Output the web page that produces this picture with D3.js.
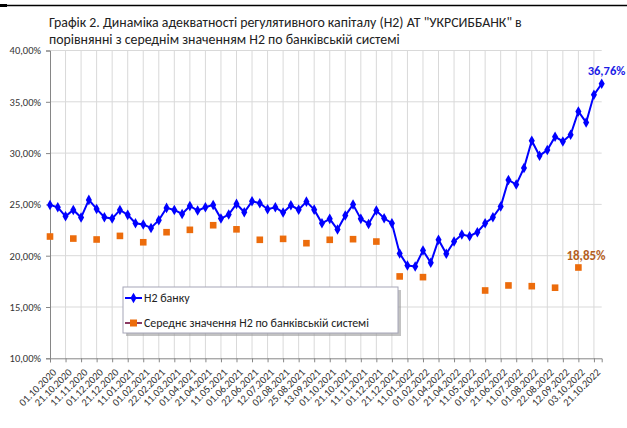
<!DOCTYPE html>
<html>
<head>
<meta charset="utf-8">
<script src="https://cdn.jsdelivr.net/npm/d3@7"></script>
<style>
  body { margin: 0; background: #fff; }
  svg { display: block; font-family: Carlito, Lato, "Open Sans", sans-serif; }
</style>
</head>
<body>
<div id="chart"></div>
<script>
// tick labels (every second category)
const tickLabels = [
  "01.10.2020", "21.10.2020", "11.11.2020", "01.12.2020", "21.12.2020", "11.01.2021",
  "01.02.2021", "22.02.2021", "11.03.2021", "01.04.2021", "21.04.2021", "11.05.2021",
  "01.06.2021", "22.06.2021", "12.07.2021", "02.08.2021", "25.08.2021", "13.09.2021",
  "01.10.2021", "21.10.2021", "11.11.2021", "01.12.2021", "21.12.2021", "11.01.2022",
  "01.02.2022", "01.04.2022", "21.04.2022", "11.05.2022", "01.06.2022", "21.06.2022",
  "11.07.2022", "01.08.2022", "22.08.2022", "12.09.2022", "03.10.2022", "21.10.2022"
];

// Н2 банку, %
const bankH2 = [
  24.95, 24.72, 23.84, 24.46, 23.72, 25.44, 24.56, 23.75, 23.62, 24.46,
  23.98, 23.16, 23.04, 22.71, 23.46, 24.66, 24.46, 24.07, 24.85, 24.40,
  24.72, 24.95, 23.62, 24.01, 25.05, 24.23, 25.30, 25.11, 24.53, 24.72,
  24.20, 24.91, 24.49, 25.27, 24.49, 23.16, 23.59, 22.55, 23.91, 24.98,
  23.59, 23.10, 24.40, 23.65, 23.16, 20.22, 19.05, 18.95, 20.51, 19.31,
  21.55, 20.18, 21.38, 22.06, 21.90, 22.29, 23.16, 23.75, 24.79, 27.38,
  26.93, 28.55, 31.21, 29.75, 30.30, 31.60, 31.14, 31.79, 34.06, 32.99,
  35.68, 36.76
];

// середнє значення Н2 по банківській системі, % (null = немає даних)
const systemH2 = [
  21.87, null, null, 21.67, null, null, 21.58, null, null, 21.93,
  null, null, 21.31, null, null, 22.29, null, null, 22.52, null,
  null, 22.97, null, null, 22.57, null, null, 21.55, null, null,
  21.64, null, null, 21.22, null, null, 21.55, null, null, 21.61,
  null, null, 21.38, null, null, 17.98, null, null, 17.91, null,
  null, null, null, null, null, null, 16.61, null, null, 17.10,
  null, null, 17.03, null, null, 16.88, null, null, 18.85, null,
  null, null
];

const yTicks = [10, 15, 20, 25, 30, 35, 40];

const W = 627, H = 428;
const plotL = 50, plotR = 601.7, plotT = 50.5, plotB = 358.3;

const svg = d3.select("#chart").append("svg")
  .attr("width", W).attr("height", H);

// top rule
svg.append("line").attr("x1", 0).attr("x2", W).attr("y1", 5.5).attr("y2", 5.5)
  .attr("stroke", "#000").attr("stroke-width", 1.5);
svg.append("rect").attr("x", 0).attr("y", 4).attr("width", 7).attr("height", 3).attr("fill", "#000");

// title
const title = svg.append("text").attr("x", 49).attr("y", 27).attr("fill", "#222").attr("font-size", 13);
title.append("tspan").attr("x", 49).attr("y", 27)
  .text("Графік 2. Динаміка адекватності регулятивного капіталу (Н2) АТ \"УКРСИББАНК\" в");
title.append("tspan").attr("x", 49).attr("y", 44)
  .text("порівнянні з середнім значенням Н2 по банківській системі");
// fit title width to the reference
const tw = title.select("tspan").node().getComputedTextLength();
title.attr("font-size", 13 * 473 / tw);

const x = d3.scalePoint().domain(d3.range(bankH2.length)).range([plotL, plotR]);
const y = d3.scaleLinear().domain([10, 40]).range([plotB, plotT]);

const evenIdx = d3.range(0, bankH2.length, 2);

// gridlines
svg.append("g").selectAll("line").data(yTicks.slice(1)).join("line")
  .attr("x1", plotL).attr("x2", plotR)
  .attr("y1", d => y(d)).attr("y2", d => y(d))
  .attr("stroke", "#d9d9d9").attr("stroke-width", 1);
svg.append("g").selectAll("line").data(evenIdx.slice(1)).join("line")
  .attr("x1", d => x(d)).attr("x2", d => x(d))
  .attr("y1", plotT).attr("y2", plotB)
  .attr("stroke", "#d9d9d9").attr("stroke-width", 1);

// y axis
const yAxis = svg.append("g").attr("transform", `translate(${plotL},0)`)
  .call(d3.axisLeft(y).tickValues(yTicks).tickSize(4).tickPadding(5)
    .tickFormat(d => d.toFixed(2).replace(".", ",") + "%"));
yAxis.select(".domain").attr("stroke", "#868686");
yAxis.selectAll(".tick line").attr("stroke", "#868686");
yAxis.selectAll("text").attr("font-size", 10.5).attr("fill", "#333")
  .attr("font-family", "Carlito, Lato, sans-serif");

// x axis
const xAxis = svg.append("g").attr("transform", `translate(0,${plotB})`)
  .call(d3.axisBottom(x).tickValues(evenIdx).tickSize(4)
    .tickFormat(i => tickLabels[i / 2]));
xAxis.select(".domain").attr("stroke", "#868686");
xAxis.selectAll(".tick line").attr("stroke", "#868686");
xAxis.selectAll("text")
  .attr("font-size", 10.5).attr("fill", "#333")
  .attr("font-family", "Carlito, Lato, sans-serif")
  .attr("text-anchor", "end")
  .attr("dy", "0.35em")
  .attr("transform", "translate(4,12) rotate(-45)")
  .attr("y", 0);

// blue line
const line = d3.line().x((d, i) => x(i)).y(d => y(d));
svg.append("path").datum(bankH2)
  .attr("d", line).attr("fill", "none")
  .attr("stroke", "#0000ff").attr("stroke-width", 2);
const diamond = d3.symbol().type(d3.symbolDiamond).size(32);
svg.append("g").selectAll("path").data(bankH2).join("path")
  .attr("d", diamond)
  .attr("transform", (d, i) => `translate(${x(i)},${y(d)})`)
  .attr("fill", "#0000ff");

// orange markers
svg.append("g").selectAll("rect")
  .data(systemH2.map((v, i) => ({ v, i })).filter(d => d.v !== null))
  .join("rect")
  .attr("x", d => x(d.i) - 3.3).attr("y", d => y(d.v) - 3.3)
  .attr("width", 6.6).attr("height", 6.6)
  .attr("fill", "#ec6c0c");

// data labels
const lastI = bankH2.length - 1;
svg.append("text")
  .attr("x", x(lastI) - 14).attr("y", y(bankH2[lastI]) - 9)
  .attr("font-size", 12.5).attr("font-weight", "bold").attr("fill", "#1c1ce6")
  .text(bankH2[lastI].toFixed(2).replace(".", ",") + "%");
const lastSys = d3.max(systemH2.map((v, i) => v === null ? -1 : i));
svg.append("text")
  .attr("x", x(lastSys) - 12).attr("y", y(systemH2[lastSys]) - 7)
  .attr("font-size", 13).attr("font-weight", "bold").attr("fill", "#b45f1e")
  .text(systemH2[lastSys].toFixed(2).replace(".", ",") + "%");

// legend
const lg = svg.append("g").attr("transform", "translate(123,287)");
lg.append("rect").attr("x", 3).attr("y", 3).attr("width", 275).attr("height", 46)
  .attr("fill", "#9a9a9a").attr("opacity", 0.6);
lg.append("rect").attr("width", 275).attr("height", 46)
  .attr("fill", "#fff").attr("stroke", "#a6a6b8").attr("stroke-width", 1);
lg.append("line").attr("x1", 2).attr("x2", 19).attr("y1", 11).attr("y2", 11)
  .attr("stroke", "#0000ff").attr("stroke-width", 2);
lg.append("path").attr("d", diamond).attr("transform", "translate(10.5,11)").attr("fill", "#0000ff");
lg.append("line").attr("x1", 2).attr("x2", 19).attr("y1", 36).attr("y2", 36)
  .attr("stroke", "#8b3a62").attr("stroke-width", 2);
lg.append("rect").attr("x", 7).attr("y", 32.5).attr("width", 7).attr("height", 7).attr("fill", "#ec6c0c");
const lt = lg.append("g").attr("font-size", 11.5).attr("fill", "#222");
lt.append("text").attr("x", 21).attr("y", 15).text("Н2 банку");
const lt2 = lt.append("text").attr("x", 21).attr("y", 40).text("Середнє значення Н2 по банківській системі");
const lw = lt2.node().getComputedTextLength();
lt.attr("font-size", 11.5 * 225 / lw);
</script>
</body>
</html>
